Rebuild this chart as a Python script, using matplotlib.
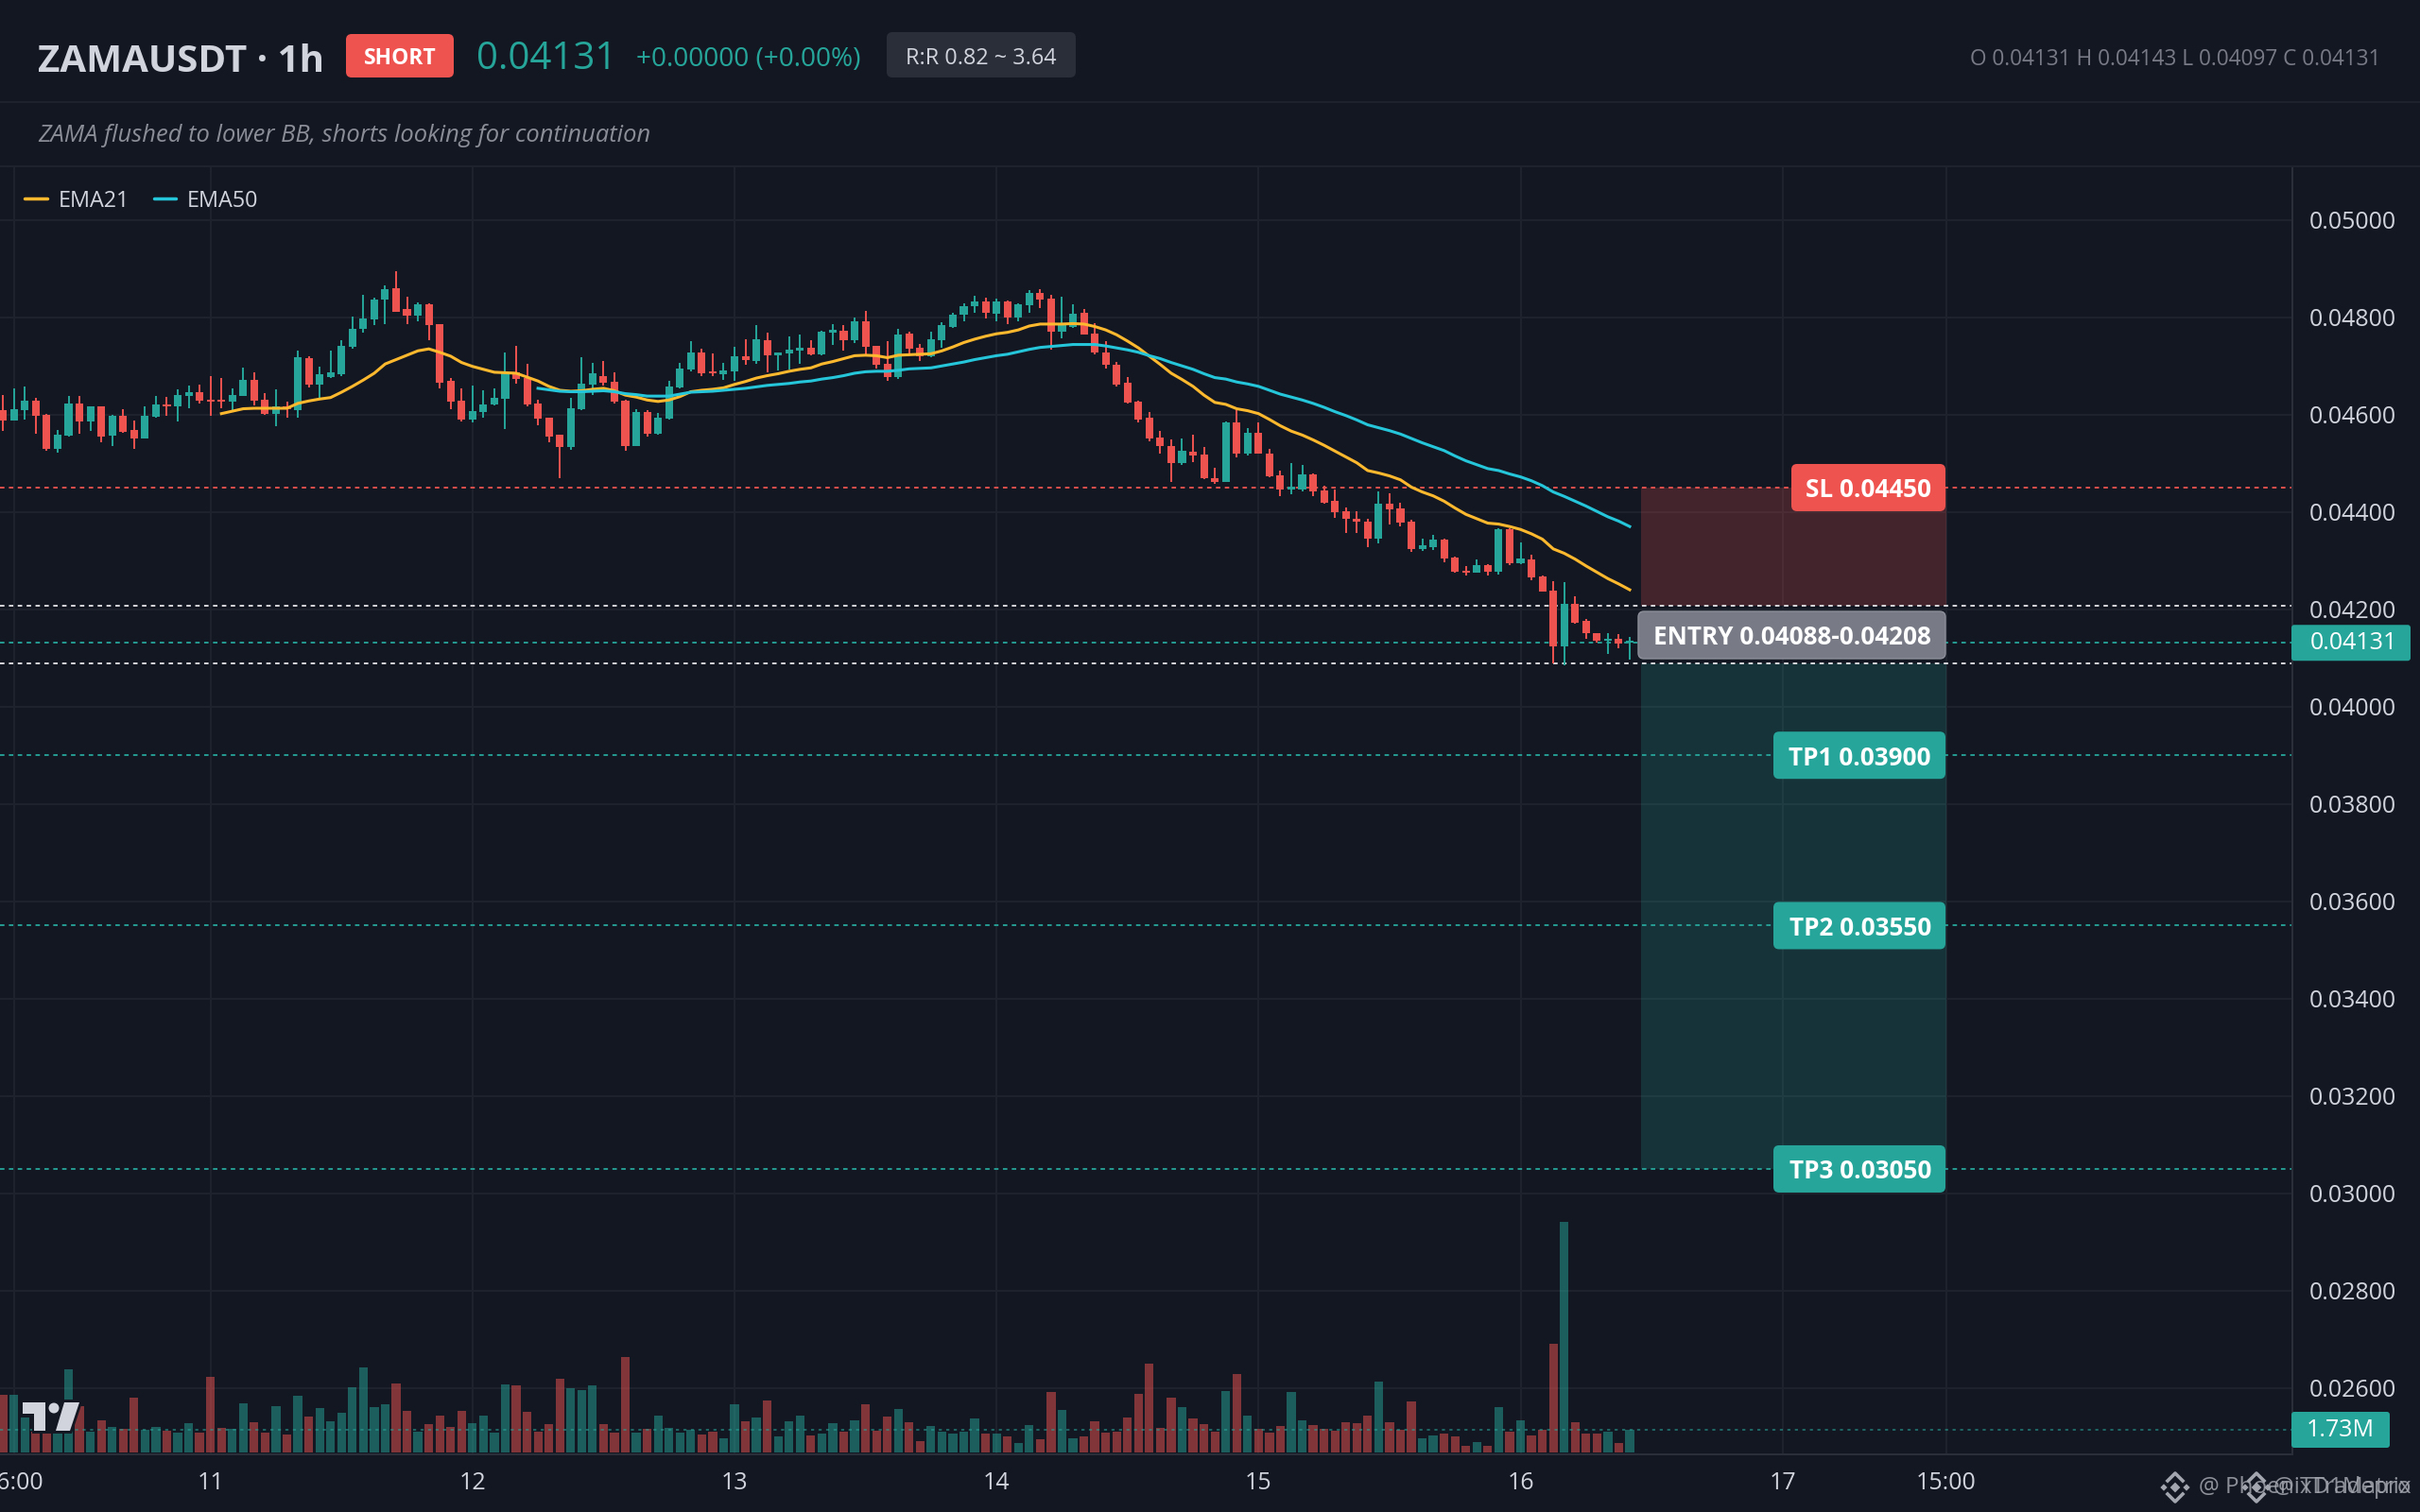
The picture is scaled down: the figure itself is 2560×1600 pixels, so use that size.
import numpy as np
import matplotlib
matplotlib.use("Agg")
import matplotlib.pyplot as plt
from matplotlib.patches import FancyBboxPatch, Polygon, Circle, Rectangle

plt.rcParams['font.family'] = ['Open Sans', 'Noto Sans', 'DejaVu Sans']

# 1. Data, prices are in 1e-5 USDT, first bar is 19 hours before day 11
opens = [4610,4588,4610,4629,4600,4530,4557,4623,4586,4616,4557,4598,4569,4551,4596,4621,4616,4639,4647,
         4631,4630,4627,4639,4672,4631,4602,4616,4610,4715,4662,4678,4682,4740,4777,4796,4837,4860,4816,4804,
         4827,4785,4670,4629,4590,4606,4620,4633,4687,4676,4623,4594,4559,4534,4612,4662,4680,4668,4629,4536,
         4606,4561,4592,4656,4693,4728,4686,4682,4689,4720,4711,4753,4722,4726,4732,4738,4724,4769,4773,4752,
         4792,4742,4705,4678,4767,4738,4719,4753,4781,4806,4823,4833,4808,4833,4800,4825,4849,4839,4771,4781,
         4810,4767,4728,4703,4666,4627,4594,4553,4536,4501,4524,4517,
         4470,4462,4583,4519,4563,4520,4476,4447,4447,4478,4445,4423,4402,4386,4381,4346,4416,4408,4381,4324,
         4328,4344,4307,4280,4276,4291,4278,4365,4295,4303,4268,4239,4124,4212,4177,4151,4136,4140,4131]
highs = [4641,4654,4658,4634,4602,4569,4639,4639,4616,4616,4600,4612,4588,4616,4639,4637,4651,4660,4662,
         4680,4676,4654,4697,4687,4645,4651,4627,4732,4720,4699,4732,4753,4802,4847,4841,4866,4895,4843,4831,
         4829,4785,4676,4654,4660,4649,4654,4728,4742,4705,4631,4594,4559,4635,4717,4707,4711,4686,4631,4612,
         4610,4604,4670,4707,4750,4736,4726,4707,4740,4755,4783,4769,4728,4761,4765,4753,4773,4786,4783,4800,
         4814,4742,4750,4777,4771,4746,4771,4790,4810,4829,4845,4841,4839,4835,4829,4856,4858,4847,4843,4827,
         4816,4788,4750,4709,4678,4629,4606,4567,4548,4550,4559,4534,
         4491,4585,4610,4573,4583,4530,4484,4501,4497,4480,4454,4447,4410,4402,4385,4443,4439,4419,4383,4346,
         4353,4346,4309,4289,4303,4293,4367,4367,4338,4313,4270,4258,4256,4227,4181,4151,4150,4148,4143]
lows = [4567,4587,4590,4561,4526,4522,4555,4561,4567,4544,4536,4563,4530,4550,4594,4598,4586,4614,4623,
        4598,4614,4608,4639,4618,4600,4577,4594,4594,4656,4633,4676,4680,4736,4769,4783,4786,4812,4785,4792,
        4752,4653,4612,4586,4583,4594,4618,4571,4664,4616,4579,4544,4470,4528,4610,4641,4660,4623,4526,4536,
        4555,4559,4590,4654,4689,4680,4680,4672,4670,4703,4705,4686,4691,4693,4705,4722,4722,4744,4732,4748,
        4722,4695,4670,4674,4724,4711,4717,4738,4779,4792,4810,4798,4792,4785,4792,4810,4819,4734,4757,4779,
        4765,4724,4695,4658,4623,4583,4546,4520,4462,4497,4503,4468,
        4458,4462,4513,4515,4519,4472,4433,4437,4443,4433,4417,4388,4357,4357,4328,4336,4375,4371,4317,4320,
        4322,4297,4276,4270,4276,4270,4272,4291,4293,4260,4237,4089,4084,4171,4140,4132,4109,4120,4097]
closes = [4588,4612,4629,4598,4530,4559,4623,4586,4616,4555,4598,4565,4551,4598,4621,4616,4641,4647,4629,
          4627,4627,4641,4672,4629,4602,4616,4612,4717,4662,4682,4686,4742,4777,4798,4837,4858,4812,4804,4827,
          4783,4666,4627,4590,4608,4620,4635,4687,4674,4620,4592,4555,4534,4614,4664,4684,4666,4627,4536,4606,
          4561,4594,4658,4695,4728,4684,4684,4691,4720,4713,4755,4722,4728,4734,4738,4724,4771,4775,4753,4792,
          4740,4703,4678,4765,4736,4719,4755,4783,4806,4823,4833,4810,4833,4800,4827,4849,4837,4771,4786,4808,
          4765,4728,4703,4662,4625,4590,4551,4536,4501,4526,4515,4470,
          4462,4583,4520,4563,4520,4474,4447,4450,4478,4443,4419,4400,4385,4381,4346,4416,4406,4379,4324,4332,
          4344,4305,4278,4276,4291,4278,4365,4295,4305,4266,4237,4124,4212,4173,4150,4136,4140,4130,4131]

# volume in millions
volumes = [4.40,4.40,2.67,1.59,1.50,1.50,6.34,3.53,1.59,2.45,1.95,1.80,4.18,1.73,1.95,1.66,1.51,2.24,1.51,
           5.77,1.87,1.80,3.75,2.31,1.51,3.53,1.37,4.33,2.74,3.39,2.38,3.03,4.97,6.49,3.46,3.68,5.26,3.17,1.59,
           2.16,2.81,1.95,3.17,2.24,2.81,1.51,5.19,5.12,3.10,1.59,2.16,5.62,4.90,4.76,5.12,2.16,1.51,7.28,1.51,
           1.80,2.81,1.87,1.51,1.73,1.37,1.59,1.08,3.68,2.38,2.67,3.97,1.23,2.38,2.81,
           1.30,1.44,2.24,1.59,2.45,3.68,1.66,2.74,3.32,2.31,0.87,2.02,1.59,1.44,1.59,2.60,1.44,1.44,1.23,0.72,
           2.09,1.01,4.61,3.24,1.08,1.23,2.38,1.51,1.59,2.67,4.47,6.78,1.87,4.18,3.46,2.60,2.16,1.59,4.69,5.98,
           2.81,1.80,1.51,2.02,4.61,2.45,2.09,1.80,1.66,2.31,2.24,2.81,5.41,2.31,1.73,3.89,1.08,1.30,1.44,1.23,
           0.50,0.79,0.50,3.46,1.59,2.45,1.30,1.73,8.29,17.59,2.31,1.44,1.44,1.59,0.72,1.73]

# EMA21 starts at bar 1, EMA50 at bar 30
ema21 = [4602,4607,4612,4613,4613,4613,4613,4623,4628,4632,4635,4646,4658,4671,4685,4704,4713,4722,4731,4735,
         4728,4720,4707,4699,4693,4687,4686,4685,4677,4669,4658,4650,4648,4649,4652,4654,
         4649,4640,4636,4630,4627,4630,4637,4647,4650,4652,4655,4662,4668,4675,4680,4684,4689,4693,4696,4704,
         4709,4715,4721,4722,4721,4717,4722,4723,4724,4725,4731,4739,4748,4755,4761,4766,4769,4774,4782,4786,
         4786,4786,4787,4786,4781,
         4774,4764,4751,4737,4720,4703,4685,4672,4658,4640,4625,4621,4612,4608,4602,4590,4577,4566,4558,4548,
         4537,4525,4513,4501,4485,4480,4474,4466,4451,4441,4433,4422,4408,4395,4386,4377,4375,4370,4364,4355,
         4344,4324,4315,4303,4289,4276,4263,4252,4240]
ema50 = [4654,4651,4648,4647,4647,4648,4649,4647,4643,4641,4638,4638,4638,4642,4646,4647,4648,4650,4652,4654,
         4657,4660,4662,4664,4667,4669,4673,4676,4680,4685,4688,4689,4689,4691,4694,4695,4696,4700,4704,4708,
         4713,4717,4721,4724,4729,4734,4738,4740,4742,4744,4744,4744,
         4741,4737,4733,4728,4721,4715,4707,4700,4693,4684,
         4676,4673,4667,4663,4658,4650,4642,4636,4630,4623,4615,4606,4598,4589,4579,4573,4567,4560,4551,4542,
         4534,4526,4515,4505,4497,4489,4485,4478,4472,4464,4454,4441,4432,4422,4412,4401,4390,4381,4370]

first_bar = -19
ema21_start = 1
ema50_start = 30

price_ticks = [0.026, 0.028, 0.030, 0.032, 0.034, 0.036, 0.038, 0.040, 0.042, 0.044, 0.046, 0.048, 0.050]
time_ticks = [-18, 0, 24, 48, 72, 96, 120, 144, 159]
time_labels = ['06:00', '11', '12', '13', '14', '15', '16', '17', '15:00']

last_price = 0.04131
last_volume = 1.73
entry_low = 0.04088
entry_high = 0.04208
stop = 0.04450
targets = [0.03900, 0.03550, 0.03050]
target_names = ['TP1 0.03900', 'TP2 0.03550', 'TP3 0.03050']

# 2. Colours
BG = '#131722'
GRID = '#1e222d'
BORDER = '#2a2e39'
UP = '#26a69a'
DOWN = '#ef5350'
TEXT = '#d1d4dc'
MUTED = '#787b86'
YELLOW = '#ffb92e'
CYAN = '#26c6da'

opens, highs, lows, closes = [np.array(a) / 1e5 for a in (opens, highs, lows, closes)]
bars = np.arange(first_bar, first_bar + len(opens))
colors = np.where(closes >= opens, UP, DOWN)

# 3. Price pane
fig = plt.figure(figsize=(25.6, 16), dpi=100, facecolor=BG)
ax = fig.add_axes([0, 61 / 1600, 2425 / 2560, 1362 / 1600], facecolor=BG)
ax.set_xlim(-19.28, 190.7)
ax.set_ylim(0.024635, 0.051082)

# trade zones
ax.add_patch(Rectangle((131, entry_high), 28, stop - entry_high, color=DOWN, alpha=0.22, lw=0, zorder=1))
ax.add_patch(Rectangle((131, targets[2]), 28, entry_low - targets[2], color=UP, alpha=0.2, lw=0, zorder=1))

# price lines
dash = (0, (2.6, 2.6))
ax.axhline(stop, color=DOWN, lw=1.3, ls=dash, zorder=2)
ax.axhline(entry_high, color='#e6e6ea', lw=1.3, ls=dash, zorder=2)
ax.axhline(entry_low, color='#e6e6ea', lw=1.3, ls=dash, zorder=2)
ax.axhline(last_price, color=UP, lw=1.3, ls=dash, zorder=2)
for t in targets:
    ax.axhline(t, color=UP, lw=1.3, ls=dash, zorder=2)

# candles
ax.vlines(bars, lows, highs, colors=colors, lw=1.4, zorder=3)
body_low = np.minimum(opens, closes)
body_h = np.maximum(np.abs(closes - opens), 0.00004)
ax.bar(bars, body_h, bottom=body_low, width=0.7, color=colors, lw=0, zorder=3)

# EMAs
ax.plot(np.arange(ema21_start, ema21_start + len(ema21)), np.array(ema21) / 1e5, color=YELLOW, lw=2.2, zorder=4)
ax.plot(np.arange(ema50_start, ema50_start + len(ema50)), np.array(ema50) / 1e5, color=CYAN, lw=2.2, zorder=4)

# 4. Volume pane on the same x axis
vol = ax.twinx()
vol.set_ylim(-0.144, 98.05)
vol.set_yticks([])
vol.patch.set_visible(False)
for s in vol.spines.values():
    s.set_visible(False)
vol.bar(bars, volumes, width=0.8, color=colors, alpha=0.5, lw=0, zorder=2)
vol.axhline(last_volume, color=UP, alpha=0.6, lw=1.3, ls=(0, (1.8, 2.6)), zorder=3)

# axis setup comes after twinx, it moves the price ticks back to the left
ax.set_xticks(time_ticks)
ax.set_xticklabels(time_labels)
ax.yaxis.tick_right()
ax.set_yticks(price_ticks)
ax.set_yticklabels([f'{t:.5f}' for t in price_ticks])
ax.tick_params(axis='both', length=0, labelcolor=TEXT, labelsize=18)
ax.tick_params(axis='x', pad=13)
ax.tick_params(axis='y', pad=13)
ax.grid(True, color=GRID, lw=1.5, zorder=0)
ax.set_axisbelow(True)
for side in ['top', 'left']:
    ax.spines[side].set_visible(False)
for side in ['right', 'bottom']:
    ax.spines[side].set_color(BORDER)
    ax.spines[side].set_linewidth(1.5)

# 5. Overlay in pixels for header and labels
ov = fig.add_axes([0, 0, 1, 1])
ov.set_xlim(0, 2560)
ov.set_ylim(1600, 0)
ov.axis('off')
ov.patch.set_visible(False)


def box(x0, x1, y0, y1, color, r=6, z=6, edge='none'):
    ov.add_patch(FancyBboxPatch((x0, y0), x1 - x0, y1 - y0, boxstyle=f'round,pad=0,rounding_size={r}',
                                fc=color, ec=edge, lw=1, zorder=z))


def price_y(p):
    return 1600 - ax.transData.transform((0, p))[1]


# header
ov.plot([0, 2560], [108, 108], color=GRID, lw=1.5)
ov.plot([0, 2560], [176, 176], color=GRID, lw=1.5)
ov.text(40, 65, 'ZAMAUSDT · 1h', color=TEXT, fontsize=29, fontweight='bold', va='center')
box(366, 480, 36, 82, DOWN)
ov.text(423, 62, 'SHORT', color='white', fontsize=16.5, fontweight='bold', va='center', ha='center', zorder=7)
ov.text(504, 63, '0.04131', color=UP, fontsize=29, va='center')
ov.text(673, 63, '+0.00000 (+0.00%)', color=UP, fontsize=20.2, va='center')
box(938, 1138, 34, 82, BORDER)
ov.text(1038, 62, 'R:R 0.82 ~ 3.64', color=TEXT, fontsize=16.8, va='center', ha='center', zorder=7)
ov.text(2519, 63, 'O 0.04131 H 0.04143 L 0.04097 C 0.04131', color=MUTED, fontsize=16.3, va='center', ha='right')
ov.text(40, 143, 'ZAMA flushed to lower BB, shorts looking for continuation', color='#8b8e97',
        fontsize=18.4, fontstyle='italic', va='center')

# legend
ov.plot([26, 50], [210, 210], color=YELLOW, lw=2.5, solid_capstyle='round')
ov.text(62, 213, 'EMA21', color=TEXT, fontsize=16.8, va='center')
ov.plot([163, 186], [210, 210], color=CYAN, lw=2.5, solid_capstyle='round')
ov.text(198, 213, 'EMA50', color=TEXT, fontsize=16.8, va='center')

# trade labels
y = price_y(stop)
box(1895, 2058, y - 25, y + 25, DOWN)
ov.text(2043, y + 3, 'SL 0.04450', color='white', fontsize=18.8, fontweight='bold', va='center', ha='right', zorder=7)
box(1733, 2058, 647, 697, MUTED, edge='#8d9099')
ov.text(2043, 675, 'ENTRY 0.04088-0.04208', color='white', fontsize=18.8, fontweight='bold', va='center', ha='right', zorder=7)
for t, name in zip(targets, target_names):
    y = price_y(t)
    box(1876, 2058, y - 25, y + 25, UP)
    ov.text(2043, y + 3, name, color='white', fontsize=18.8, fontweight='bold', va='center', ha='right', zorder=7)

# axis tags
y = price_y(last_price)
box(2424, 2550, y - 19, y + 19, UP, r=3)
ov.text(2444, y, '0.04131', color='white', fontsize=18, va='center', zorder=7)
box(2424, 2528, 1494, 1532, UP, r=3)
ov.text(2476, 1513, '1.73M', color='white', fontsize=18, va='center', ha='center', zorder=7)

# TradingView logo
ov.add_patch(Polygon([(22, 1481), (88, 1481), (76, 1517), (34, 1517), (34, 1498), (22, 1498)], fc=BG, ec='none', zorder=6))
ov.add_patch(Polygon([(24, 1484), (48, 1484), (48, 1514), (36, 1514), (36, 1496), (24, 1496)], fc=TEXT, ec='none', zorder=7))
ov.add_patch(Circle((57, 1490), 5.5, fc=TEXT, ec='none', zorder=7))
ov.add_patch(Polygon([(68, 1484), (84, 1484), (74, 1514), (59, 1514)], fc=TEXT, ec='none', zorder=7))

# watermarks, two of them printed over each other
mark = '#a3a6ae'
for cx, label in [(2301, '@ PhoenixTradepro'), (2387, '@ TD1Matrix')]:
    ov.scatter([cx, cx - 12, cx + 12], [1574, 1574, 1574], marker='D', s=[30, 14, 14], color=mark, lw=0, zorder=7)
    ov.plot([cx - 8, cx, cx + 8], [1567, 1559, 1567], color=mark, lw=2.6, zorder=7)
    ov.plot([cx - 8, cx, cx + 8], [1581, 1589, 1581], color=mark, lw=2.6, zorder=7)
    ov.text(2551, 1574, label, color=mark, fontsize=17.5, va='center', ha='right', alpha=0.85, zorder=7)

fig.savefig('out.png', dpi=100, facecolor=BG)
